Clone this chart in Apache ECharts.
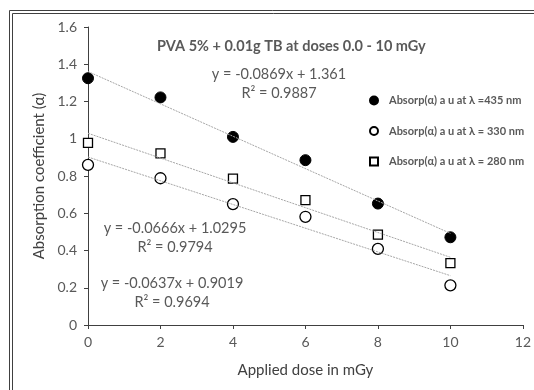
<!DOCTYPE html>
<html lang="en">
<head>
    <meta charset="UTF-8">
    <title>PVA absorption chart</title>
    <script type="text/javascript" src="https://cdn.jsdelivr.net/npm/echarts@6/dist/echarts.min.js"></script>
    <style>
        html, body { margin: 0; padding: 0; background: #fff; }
        #chart { width: 534px; height: 390px; }
    </style>
</head>
<body>
    <div id="chart"></div>
</body>
<script type="text/javascript">
    // doses (mGy)
    var doses = [0, 2, 4, 6, 8, 10];
    // absorption values
    var abs435 = [1.325, 1.222, 1.01, 0.885, 0.652, 0.471];
    var abs330 = [0.86, 0.788, 0.649, 0.581, 0.409, 0.213];
    var abs280 = [0.978, 0.921, 0.786, 0.670, 0.485, 0.332];
    // trendline ends (x, y)
    var trend435 = [[0, 1.361], [10, 0.492]];
    var trend330 = [[0, 0.9019], [10, 0.2649]];
    var trend280 = [[0, 1.0295], [10, 0.3635]];

    var names = ['Absorp(\u03b1) a u at \u03bb =435 nm', 'Absorp(\u03b1) a u at \u03bb = 330 nm', 'Absorp(\u03b1) a u at \u03bb = 280 nm'];
    var eqs = [
        ['y = -0.0869x + 1.361', 'R\u00b2 = 0.9887'],
        ['y = -0.0666x + 1.0295', 'R\u00b2 = 0.9794'],
        ['y = -0.0637x + 0.9019', 'R\u00b2 = 0.9694']
    ];

    function pairs(ys) {
        return doses.map(function (d, i) { return [d, ys[i]]; });
    }

    var font = 'Lato';
    var myChart = echarts.init(document.getElementById('chart'));

    function trend(d) {
        return {
            type: 'line', data: d, symbol: 'none', silent: true,
            lineStyle: { color: '#a6a6a6', width: 1, type: [2, 1] }
        };
    }

    // two lines of a trendline label, centred on cx
    function eqText(lines, cx, cy) {
        return lines.map(function (t, i) {
            return {
                type: 'text', x: cx, y: cy + i * 19,
                style: {
                    text: t, align: 'center', verticalAlign: 'middle',
                    fill: '#595959', font: '14.5px ' + font
                }
            };
        });
    }

    var options = {
        animation: false,
        title: {
            text: 'PVA 5% + 0.01g TB at doses 0.0 - 10 mGy',
            left: 152, top: 34,
            textStyle: { fontFamily: font, fontWeight: 'bold', fontSize: 14.5, color: '#595959' }
        },
        legend: {
            orient: 'vertical', left: 364, top: 90, itemGap: 19.5,
            itemWidth: 8, itemHeight: 8,
            data: names,
            textStyle: { fontFamily: font, fontWeight: 'bold', fontSize: 11, color: '#595959', padding: [0, 0, 0, 6] }
        },
        grid: { left: 88, right: 6, top: 27, bottom: 65 },
        xAxis: {
            type: 'value', min: 0, max: 12, interval: 2,
            name: 'Applied dose in mGy', nameLocation: 'middle', nameGap: 38,
            nameMoveOverlap: false,
            nameTextStyle: { fontFamily: font, fontSize: 15, color: '#404040' },
            axisLine: { lineStyle: { color: '#404040' } },
            axisTick: { show: true, length: 4, lineStyle: { color: '#404040' } },
            axisLabel: { fontFamily: font, fontSize: 14, color: '#595959', margin: 10 },
            splitLine: { show: false }
        },
        yAxis: {
            type: 'value', min: 0, max: 1.6, interval: 0.2,
            name: 'Absorption coefficient (\u03b1)', nameLocation: 'middle', nameGap: 41,
            nameMoveOverlap: false,
            nameTextStyle: { fontFamily: font, fontSize: 15, color: '#404040' },
            axisLine: { show: true, lineStyle: { color: '#404040' } },
            axisTick: { show: true, length: 4, lineStyle: { color: '#404040' } },
            axisLabel: { fontFamily: font, fontSize: 14, color: '#595959', margin: 11 },
            splitLine: { show: false }
        },
        graphic: [
            { type: 'rect', shape: { x: 9.5, y: 10.5, width: 600, height: 500 },
              style: { fill: 'none', stroke: '#404040', lineWidth: 1 } },
            { type: 'rect', shape: { x: 12.5, y: 13.5, width: 600, height: 500 },
              style: { fill: 'none', stroke: '#404040', lineWidth: 1 } }
        ].concat(eqText(eqs[0], 279, 74), eqText(eqs[1], 175, 228), eqText(eqs[2], 172, 283)),
        series: [
            trend(trend435), trend(trend330), trend(trend280),
            {
                name: names[0], type: 'scatter', data: pairs(abs435),
                symbol: 'circle', symbolSize: 11,
                itemStyle: { color: '#000', borderColor: '#000', borderWidth: 1, opacity: 1 }
            },
            {
                name: names[1], type: 'scatter', data: pairs(abs330),
                symbol: 'circle', symbolSize: 11,
                itemStyle: { color: '#fff', borderColor: '#000', borderWidth: 1.3, opacity: 1 }
            },
            {
                name: names[2], type: 'scatter', data: pairs(abs280),
                symbol: 'rect', symbolSize: 9,
                itemStyle: { color: '#fff', borderColor: '#000', borderWidth: 1.3, opacity: 1 }
            }
        ]
    };
    myChart.setOption(options);
</script>
</html>
